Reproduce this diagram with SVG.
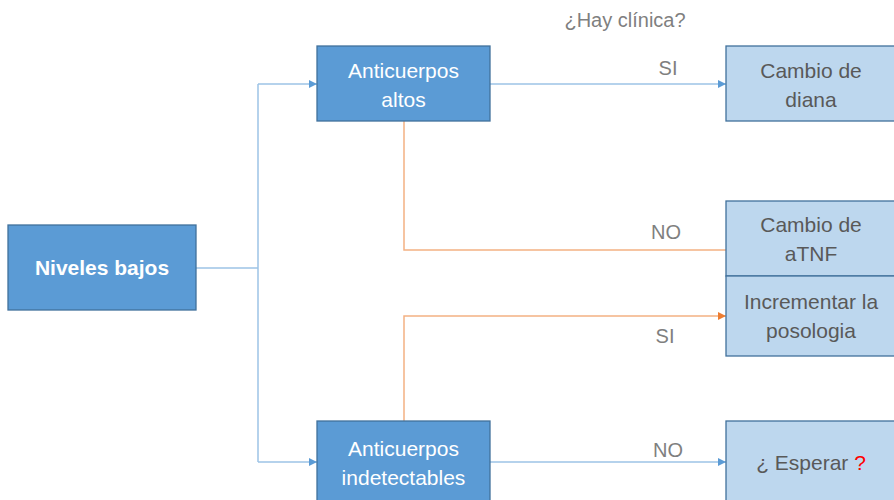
<svg xmlns="http://www.w3.org/2000/svg" width="894" height="500" viewBox="0 0 894 500">
<defs>
<style>
.dark{fill:#5B9BD5;stroke:#41719C;stroke-width:1.3}
.light{fill:#BDD7EE;stroke:#41719C;stroke-width:1.3}
.wt{fill:#FFFFFF;font-family:"Liberation Sans",Arial,sans-serif;font-size:21px;text-anchor:middle}
.gt{fill:#595959;font-family:"Liberation Sans",Arial,sans-serif;font-size:21px;text-anchor:middle}
.lbl{fill:#7F7F7F;font-family:"Liberation Sans",Arial,sans-serif;font-size:20px;text-anchor:middle}
.blue{fill:none;stroke:#9DC3E6;stroke-width:1.5}
.orange{fill:none;stroke:#F4B183;stroke-width:1.5}
</style>
<marker id="ab" viewBox="0 0 10 10" refX="10" refY="5" markerWidth="8" markerHeight="8" markerUnits="userSpaceOnUse" orient="auto"><path d="M0,0 L10,5 L0,10 z" fill="#5B9BD5"/></marker>
<marker id="ao" viewBox="0 0 10 10" refX="10" refY="5" markerWidth="8" markerHeight="8" markerUnits="userSpaceOnUse" orient="auto"><path d="M0,0 L10,5 L0,10 z" fill="#ED7D31"/></marker>
</defs>
<rect width="894" height="500" fill="#FFFFFF"/>
<g id="connectors">
<path class="blue" d="M196,268 H258"/>
<path class="blue" d="M258,84 V462"/>
<path class="blue" d="M258,84 H317" marker-end="url(#ab)"/>
<path class="blue" d="M258,462 H317" marker-end="url(#ab)"/>
<path class="blue" d="M490,84 H726" marker-end="url(#ab)"/>
<path class="blue" d="M490,462 H726" marker-end="url(#ab)"/>
<path class="orange" d="M404,121 V250 H726"/>
<path class="orange" d="M404,421 V316 H726" marker-end="url(#ao)"/>
</g>
<g id="labels">
<text class="lbl" x="625" y="27">¿Hay clínica?</text>
<text class="lbl" x="668" y="75">SI</text>
<text class="lbl" x="666" y="239">NO</text>
<text class="lbl" x="665" y="343">SI</text>
<text class="lbl" x="668" y="457">NO</text>
</g>
<g id="niveles">
<rect class="dark" x="8" y="225" width="188" height="85"/>
<text class="wt" x="102" y="275" font-weight="bold">Niveles bajos</text>
</g>
<g id="altos">
<rect class="dark" x="317" y="46" width="173" height="75"/>
<text class="wt" x="403.5" y="78">Anticuerpos</text>
<text class="wt" x="403.5" y="107">altos</text>
</g>
<g id="indetectables">
<rect class="dark" x="317" y="421" width="173" height="85"/>
<text class="wt" x="403.5" y="456">Anticuerpos</text>
<text class="wt" x="403.5" y="485">indetectables</text>
</g>
<g id="diana">
<rect class="light" x="726" y="46" width="175" height="75"/>
<text class="gt" x="811" y="78">Cambio de</text>
<text class="gt" x="811" y="107">diana</text>
</g>
<g id="atnf">
<rect class="light" x="726" y="201" width="175" height="75"/>
<text class="gt" x="811" y="232">Cambio de</text>
<text class="gt" x="811" y="261">aTNF</text>
</g>
<g id="posologia">
<rect class="light" x="726" y="276" width="175" height="80"/>
<text class="gt" x="811" y="309">Incrementar la</text>
<text class="gt" x="811" y="338">posologia</text>
</g>
<g id="esperar">
<rect class="light" x="726" y="421" width="175" height="85"/>
<text class="gt" x="811" y="470">¿ Esperar <tspan fill="#FF0000">?</tspan></text>
</g>
</svg>
